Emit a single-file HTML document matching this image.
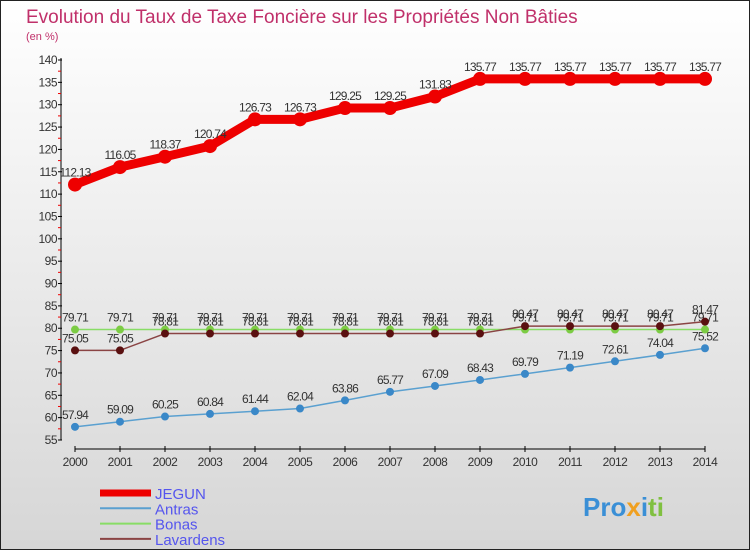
<!DOCTYPE html>
<html><head><meta charset="utf-8"><style>
body{margin:0}
svg{display:block;font-family:"Liberation Sans",sans-serif}
</style></head><body>
<svg id="c" width="750" height="550" xmlns="http://www.w3.org/2000/svg">
<defs><linearGradient id="bg" x1="0" y1="0" x2="0" y2="1"><stop offset="0" stop-color="#ffffff"/><stop offset="1" stop-color="#d6d6d6"/></linearGradient></defs>
<rect x="0.5" y="0.5" width="749" height="549" fill="url(#bg)" stroke="#222"/>
<text x="26" y="23" font-size="19" fill="#c0306a">Evolution du Taux de Taxe Foncière sur les Propriétés Non Bâties</text>
<text x="26" y="40" font-size="11" fill="#c0306a">(en %)</text>
<g id="axes"></g>
<g id="series"></g>
<g id="legend"></g>
<text x="583" y="516" font-size="26" font-weight="bold" fill="#3a8fd6">Pro<tspan fill="#f0a020">x</tspan><tspan fill="#3a8fd6">i</tspan><tspan fill="#80c040">ti</tspan></text>
</svg>
<script>
const years=[2000,2001,2002,2003,2004,2005,2006,2007,2008,2009,2010,2011,2012,2013,2014];
const jegun=[112.13,116.05,118.37,120.74,126.73,126.73,129.25,129.25,131.83,135.77,135.77,135.77,135.77,135.77,135.77];
const antras=[57.94,59.09,60.25,60.84,61.44,62.04,63.86,65.77,67.09,68.43,69.79,71.19,72.61,74.04,75.52];
const bonas=[79.71,79.71,79.71,79.71,79.71,79.71,79.71,79.71,79.71,79.71,79.71,79.71,79.71,79.71,79.71];
const lavardens=[75.05,75.05,78.81,78.81,78.81,78.81,78.81,78.81,78.81,78.81,80.47,80.47,80.47,80.47,81.47];
const yTicks=[55,60,65,70,75,80,85,90,95,100,105,110,115,120,125,130,135,140];
const NS="http://www.w3.org/2000/svg";
const X=i=>75+i*45;
const Y=v=>60+(140-v)*380/85;
function mk(p,t,a){const e=document.createElementNS(NS,t);for(const k in a)e.setAttribute(k,a[k]);p.appendChild(e);return e;}
const ax=document.getElementById('axes');
let l=mk(ax,'line',{x1:61,y1:58,x2:61,y2:Y(55),stroke:'#000'});


l=mk(ax,'line',{x1:X(0),y1:449,x2:X(14),y2:449,stroke:'#000'});


yTicks.forEach(v=>{
 mk(ax,'line',{x1:58,x2:62,y1:Y(v),y2:Y(v),stroke:'#000'});
 if(v<140) mk(ax,'line',{x1:58,x2:61,y1:Y(v+2.5),y2:Y(v+2.5),stroke:'#e00'});
 const t=mk(ax,'text',{x:57,y:Y(v)+4,'font-size':12,'text-anchor':'end',fill:'#333','letter-spacing':'-0.5'});
 t.textContent=v;
 
 
});
years.forEach((yr,i)=>{
 mk(ax,'line',{x1:X(i),x2:X(i),y1:446,y2:452,stroke:'#000'});
 const t=mk(ax,'text',{x:X(i),y:466,'font-size':12,'text-anchor':'middle',fill:'#333','letter-spacing':'-0.5'});
 t.textContent=yr;
 
 
});
const sg=document.getElementById('series');
const series=[
 {name:'antras',d:antras,c:'#5aa0d0',w:1.5,r:4,fc:'#3a88c8'},
 {name:'bonas',d:bonas,c:'#88dd66',w:1.5,r:4,fc:'#7ccc44'},
 {name:'lavardens',d:lavardens,c:'#8a4444',w:1.5,r:4,fc:'#5a1010'},
 {name:'jegun',d:jegun,c:'#ee0000',w:9,r:7,fc:'#ee0000'}];
series.forEach(s=>{
 const p=mk(sg,'polyline',{points:s.d.map((v,i)=>X(i)+','+Y(v)).join(' '),fill:'none',stroke:s.c,'stroke-width':s.w,'stroke-linejoin':'round'});
 
 
 s.d.forEach((v,i)=>{
  const c=mk(sg,'circle',{cx:X(i),cy:Y(v),r:s.r,fill:s.fc});
  
  
  const t=mk(sg,'text',{x:X(i),y:Y(v)-8,'font-size':12,'text-anchor':'middle',fill:'#333','letter-spacing':'-0.8'});
  t.textContent=String(v);
  
  
 });
});
const lg=document.getElementById('legend');
[['JEGUN','#ee0000',7],['Antras','#5aa0d0',2],['Bonas','#88dd66',2],['Lavardens','#8a4444',2]].forEach((e,i)=>{
 const y=493+i*15.3;
 const ln=mk(lg,'line',{x1:100,x2:151,y1:y,y2:y,stroke:e[1],'stroke-width':e[2]});
 
 
 const t=mk(lg,'text',{x:155,y:y+6,'font-size':15,fill:'#5555ee'});
 t.textContent=e[0];
 
 
});
</script>
</body></html>
